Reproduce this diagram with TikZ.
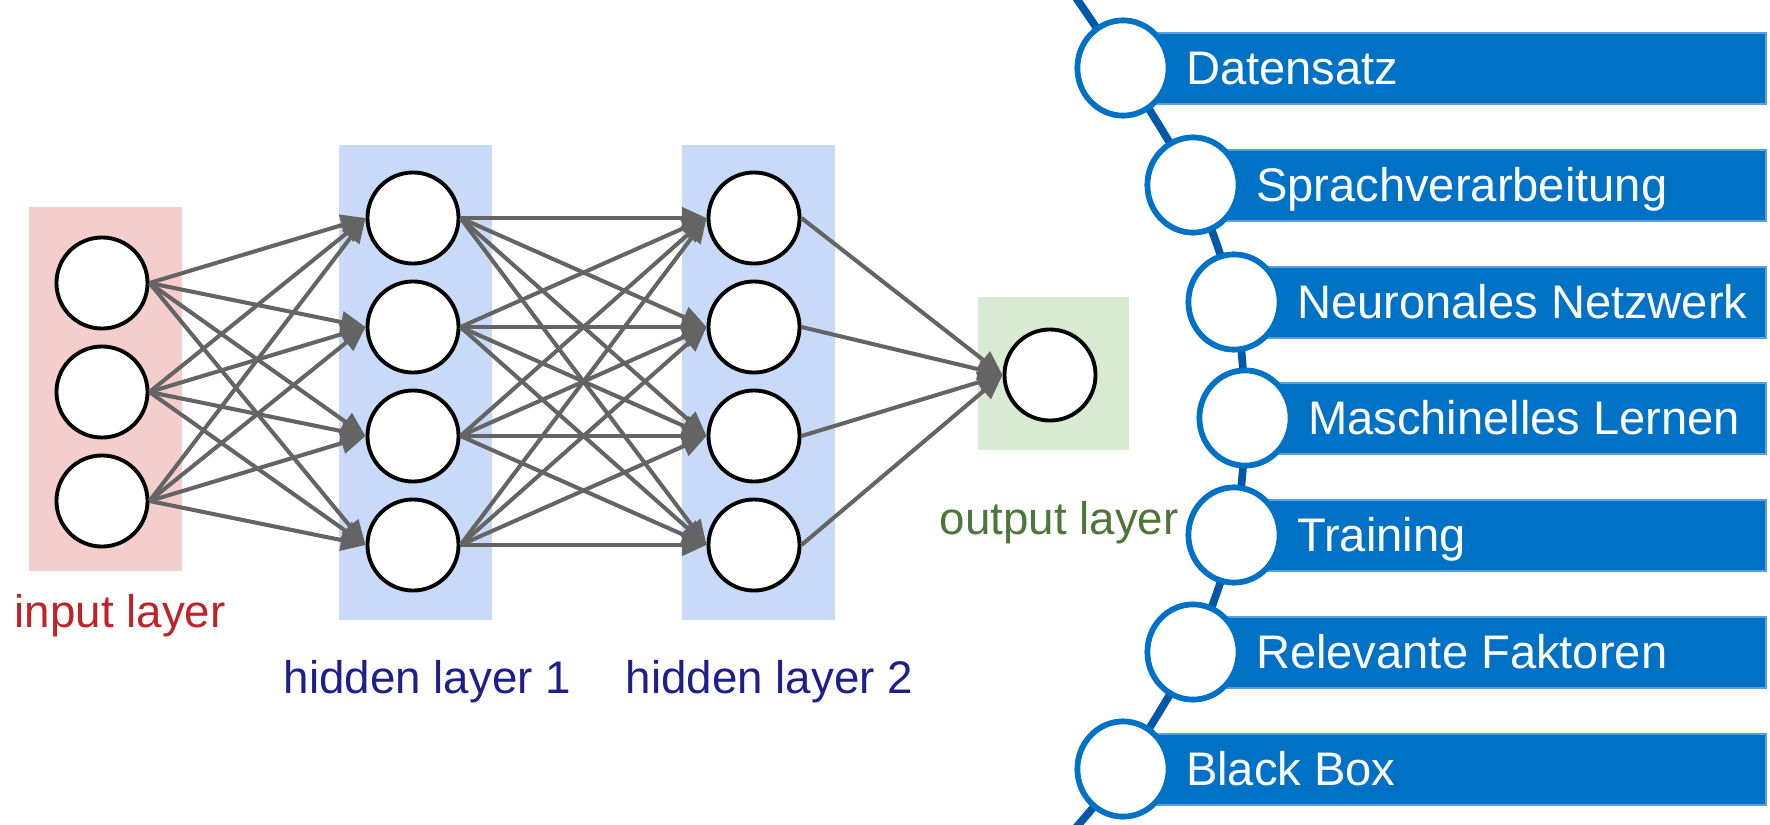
\documentclass[tikz,border=0pt]{standalone}
\usepackage{fontspec}
\setmainfont{Liberation Sans}
\usepackage{tikz}
\usetikzlibrary{arrows.meta, shapes.geometric, positioning}

\definecolor{inred}{RGB}{244,205,205}
\definecolor{hidblue}{RGB}{201,218,248}
\definecolor{outgreen}{RGB}{217,234,211}
\definecolor{linkgray}{RGB}{100,100,100}
\definecolor{labred}{RGB}{190,35,40}
\definecolor{labblue}{RGB}{30,30,140}
\definecolor{labgreen}{RGB}{78,118,58}
\definecolor{barblue}{RGB}{0,114,198}
\definecolor{barline}{RGB}{90,160,225}
\definecolor{tlblue}{RGB}{0,88,166}

\begin{document}
\begin{tikzpicture}[x=0.01cm, y=-0.01cm,
  neuron/.style={circle, draw=black, line width=1.1pt, fill=white, inner sep=0pt, minimum size=0.91cm},
  link/.style={draw=linkgray, line width=1.15pt, -{Triangle[length=7pt,width=6pt]}},
  lab/.style={anchor=west, inner sep=0pt, font=\fontsize{13}{15}\selectfont},
  stage/.style={ellipse, draw=barblue, line width=1.6pt, fill=white, inner sep=0pt, minimum width=0.91cm, minimum height=0.95cm},
  bartext/.style={inner sep=0pt, text height=0.32cm, text depth=0pt, text=white, font=\fontsize{13.4}{16}\selectfont}]
\useasboundingbox (0,0) rectangle (1770,824);

% layer boxes
\fill[inred] (29,207) rectangle (182,571);
\fill[hidblue] (339,145) rectangle (492,620);
\fill[hidblue] (682,145) rectangle (835,620);
\fill[outgreen] (978,297) rectangle (1129,450);

% neurons
\node[neuron] (i1) at (102,283) {};
\node[neuron] (i2) at (102,392) {};
\node[neuron] (i3) at (102,501) {};
\node[neuron] (a1) at (413,218) {};
\node[neuron] (a2) at (413,327) {};
\node[neuron] (a3) at (413,436) {};
\node[neuron] (a4) at (413,545) {};
\node[neuron] (b1) at (754,218) {};
\node[neuron] (b2) at (754,327) {};
\node[neuron] (b3) at (754,436) {};
\node[neuron] (b4) at (754,545) {};
\node[neuron] (o1) at (1050,375) {};

% weights
\draw[link] (i1.east)--(a1.west); \draw[link] (i1.east)--(a2.west); \draw[link] (i1.east)--(a3.west); \draw[link] (i1.east)--(a4.west);
\draw[link] (i2.east)--(a1.west); \draw[link] (i2.east)--(a2.west); \draw[link] (i2.east)--(a3.west); \draw[link] (i2.east)--(a4.west);
\draw[link] (i3.east)--(a1.west); \draw[link] (i3.east)--(a2.west); \draw[link] (i3.east)--(a3.west); \draw[link] (i3.east)--(a4.west);
\draw[link] (a1.east)--(b1.west); \draw[link] (a1.east)--(b2.west); \draw[link] (a1.east)--(b3.west); \draw[link] (a1.east)--(b4.west);
\draw[link] (a2.east)--(b1.west); \draw[link] (a2.east)--(b2.west); \draw[link] (a2.east)--(b3.west); \draw[link] (a2.east)--(b4.west);
\draw[link] (a3.east)--(b1.west); \draw[link] (a3.east)--(b2.west); \draw[link] (a3.east)--(b3.west); \draw[link] (a3.east)--(b4.west);
\draw[link] (a4.east)--(b1.west); \draw[link] (a4.east)--(b2.west); \draw[link] (a4.east)--(b3.west); \draw[link] (a4.east)--(b4.west);
\draw[link] (b1.east)--(o1.west); \draw[link] (b2.east)--(o1.west); \draw[link] (b3.east)--(o1.west); \draw[link] (b4.east)--(o1.west);

% layer names
\node[lab, text=labred] (inlab) at (14,616) {input layer};
\node[lab, text=labblue] (alab) at (283,682) {hidden layer 1};
\node[lab, text=labblue] (blab) at (625,682) {hidden layer 2};
\node[lab, text=labgreen] (olab) at (939,523) {output layer};

% timeline
\coordinate (tltop) at (1072,-8);
\coordinate (tlbot) at (1072,832);
\node[stage] (d1) at (1123,68) {};
\node[stage] (d2) at (1193,185) {};
\node[stage] (d3) at (1234,302) {};
\node[stage] (d4) at (1245,418) {};
\node[stage] (d5) at (1234,535) {};
\node[stage] (d6) at (1193,652) {};
\node[stage] (d7) at (1123,769) {};
\draw[tlblue, line width=2.2pt] plot[smooth] coordinates {(tltop) (d1.center) (d2.center) (d3.center) (d4.center) (d5.center) (d6.center) (d7.center) (tlbot)};
\filldraw[fill=barblue, draw=barline, line width=0.4pt] (1123,33) rectangle (1766,104);
\filldraw[fill=barblue, draw=barline, line width=0.4pt] (1193,150) rectangle (1766,221);
\filldraw[fill=barblue, draw=barline, line width=0.4pt] (1234,267) rectangle (1766,338);
\filldraw[fill=barblue, draw=barline, line width=0.4pt] (1245,383) rectangle (1766,454);
\filldraw[fill=barblue, draw=barline, line width=0.4pt] (1234,500) rectangle (1766,571);
\filldraw[fill=barblue, draw=barline, line width=0.4pt] (1193,617) rectangle (1766,688);
\filldraw[fill=barblue, draw=barline, line width=0.4pt] (1123,734) rectangle (1766,805);
\node[stage] at (d1) {}; \node[stage] at (d2) {}; \node[stage] at (d3) {}; \node[stage] at (d4) {};
\node[stage] at (d5) {}; \node[stage] at (d6) {}; \node[stage] at (d7) {};
\node[bartext, right=0.14cm of d1] (t1) {Datensatz};
\node[bartext, right=0.14cm of d2] (t2) {Sprachverarbeitung};
\node[bartext, right=0.14cm of d3] (t3) {Neuronales Netzwerk};
\node[bartext, right=0.14cm of d4] (t4) {Maschinelles Lernen};
\node[bartext, right=0.14cm of d5] (t5) {Training};
\node[bartext, right=0.14cm of d6] (t6) {Relevante Faktoren};
\node[bartext, right=0.14cm of d7] (t7) {Black Box};
\end{tikzpicture}
\end{document}
